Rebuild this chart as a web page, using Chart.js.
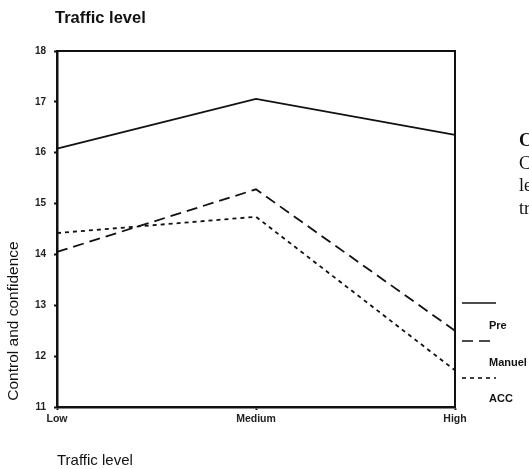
<!DOCTYPE html>
<html>
<head>
<meta charset="utf-8">
<script src="https://cdn.jsdelivr.net/npm/chart.js@4"></script>
<style>
  body { margin: 0; background: #fff; }
  #wrap { width: 529px; height: 469px; }
</style>
</head>
<body>
<div id="wrap"><canvas id="trafficChart" width="529" height="469"></canvas></div>
<script>
// data
const levels = ["Low", "Medium", "High"];
const seriesNames = ["Pre", "Manuel", "ACC"];
const preValues = [16.08, 17.06, 16.35];
const manualValues = [14.05, 15.28, 12.5];
const accValues = [14.42, 14.74, 11.72];
const yTicks = [11, 12, 13, 14, 15, 16, 17, 18];
const sideText = ["C", "C", "le", "tr"];

const ink = "#111";
const sans = "'Liberation Sans', Arial, sans-serif";

// frame, titles, legend and the cut-off page text
const extrasPlugin = {
  id: "extras",
  afterDraw(chart) {
    const ctx = chart.ctx;
    const area = chart.chartArea;
    ctx.save();

    // top + right edges of the box
    ctx.strokeStyle = ink;
    ctx.lineWidth = 2;
    ctx.beginPath();
    ctx.moveTo(area.left, area.top);
    ctx.lineTo(area.right, area.top);
    ctx.lineTo(area.right, area.bottom);
    ctx.stroke();

    ctx.fillStyle = ink;
    ctx.textBaseline = "alphabetic";
    ctx.textAlign = "left";
    ctx.font = "bold 16.5px " + sans;
    ctx.fillText("Traffic level", 55, 23);

    ctx.font = "15px " + sans;
    ctx.fillText("Traffic level", 57, 465);

    // y axis title, sits low on the axis
    ctx.save();
    ctx.translate(18, 321);
    ctx.rotate(-Math.PI / 2);
    ctx.textAlign = "center";
    ctx.font = "15.5px " + sans;
    ctx.fillText("Control and confidence", 0, 0);
    ctx.restore();

    // legend: line sample above each name
    const lineY = [303, 341, 378];
    const textY = [329, 366, 402];
    chart.data.datasets.forEach((ds, i) => {
      ctx.strokeStyle = ink;
      ctx.lineWidth = 1.6;
      ctx.setLineDash(ds.borderDash || []);
      ctx.beginPath();
      ctx.moveTo(462, lineY[i]);
      ctx.lineTo(496, lineY[i]);
      ctx.stroke();
      ctx.setLineDash([]);
      ctx.font = "bold 11px " + sans;
      ctx.fillText(ds.label, 489, textY[i]);
    });

    // body text of the page, cut by the crop
    sideText.forEach((t, i) => {
      ctx.font = (i === 0 ? "bold " : "") + "18px 'Liberation Serif', serif";
      ctx.fillText(t, 519, 146 + i * 22.7);
    });

    ctx.restore();
  }
};

const ctx = document.getElementById("trafficChart").getContext("2d");

new Chart(ctx, {
  type: "line",
  data: {
    labels: levels,
    datasets: [
      {
        label: seriesNames[0],
        data: preValues,
        borderColor: ink,
        borderWidth: 1.8,
        pointRadius: 0,
        tension: 0
      },
      {
        label: seriesNames[1],
        data: manualValues,
        borderColor: ink,
        borderWidth: 1.8,
        borderDash: [11, 6],
        pointRadius: 0,
        tension: 0
      },
      {
        label: seriesNames[2],
        data: accValues,
        borderColor: ink,
        borderWidth: 1.8,
        borderDash: [4, 4],
        pointRadius: 0,
        tension: 0
      }
    ]
  },
  options: {
    responsive: false,
    animation: false,
    layout: {
      padding: { left: 30, right: 74, top: 51, bottom: 42 }
    },
    plugins: {
      legend: { display: false },
      tooltip: { enabled: false }
    },
    scales: {
      x: {
        offset: false,
        afterFit(scale) { scale.height = 20; },
        grid: {
          drawOnChartArea: false,
          tickLength: 3,
          tickWidth: 2,
          color: ink
        },
        border: { color: ink, width: 2.5 },
        ticks: {
          color: "#222",
          padding: 3,
          font: { family: sans, size: 10.5, weight: "bold" }
        }
      },
      y: {
        min: 11,
        max: 18,
        afterFit(scale) { scale.width = 27; },
        afterBuildTicks(scale) {
          scale.ticks = yTicks.map(v => ({ value: v }));
        },
        grid: {
          drawOnChartArea: false,
          tickLength: 3,
          tickWidth: 2,
          color: ink
        },
        border: { color: ink, width: 2.5 },
        ticks: {
          color: "#222",
          padding: 8,
          font: { family: sans, size: 10, weight: "bold" }
        }
      }
    }
  },
  plugins: [extrasPlugin]
});
</script>
</body>
</html>
